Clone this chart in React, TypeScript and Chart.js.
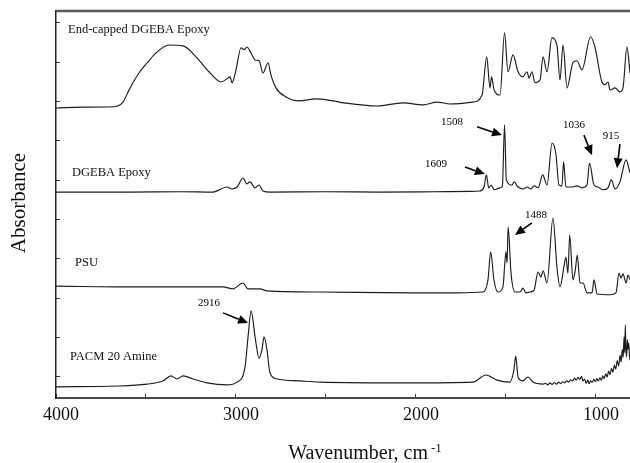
import { useEffect, useRef } from "react";
import { Chart, registerables } from "chart.js";

Chart.register(...registerables);

const SERIF = '"Liberation Serif", "Times New Roman", serif';

// FTIR spectra, [wavenumber (cm-1), absorbance], each trace already offset on the stack
const endCappedEpoxy: [number, number][] = [
  [4000, 6.84], [3850, 6.86], [3683, 6.87], [3628, 6.99], [3594, 7.3], [3539, 7.73],
  [3489, 8.01], [3444, 8.24], [3372, 8.44], [3294, 8.42], [3222, 8.14], [3150, 7.76],
  [3083, 7.5], [3044, 7.6], [3033, 7.63], [3022, 7.48], [3000, 7.81], [2972, 8.37],
  [2956, 8.32], [2939, 8.39], [2917, 8.24], [2894, 8.06], [2872, 8.04], [2850, 7.73],
  [2822, 7.99], [2806, 7.68], [2778, 7.35], [2722, 7.12], [2650, 7.02], [2556, 7.07],
  [2461, 7.02], [2400, 6.97], [2217, 6.89], [2072, 6.97], [1961, 6.92], [1883, 6.99],
  [1811, 6.94], [1683, 6.99], [1633, 7.17], [1607, 8.14], [1589, 7.35], [1580, 7.63],
  [1567, 7.32], [1533, 7.17], [1508, 8.75], [1489, 7.76], [1461, 8.19], [1433, 7.76],
  [1406, 7.63], [1383, 7.76], [1372, 7.6], [1356, 7.76], [1339, 7.48], [1311, 7.55],
  [1294, 8.14], [1272, 7.76], [1245, 8.62], [1217, 8.44], [1200, 7.55], [1183, 8.44],
  [1161, 7.35], [1128, 7.99], [1106, 8.04], [1078, 7.81], [1030, 8.65], [1006, 8.39],
  [967, 7.5], [950, 7.43], [933, 7.5], [922, 7.3], [894, 7.35], [867, 7.25], [850, 7.35],
  [828, 8.39], [811, 7.73],
];

const dgebaEpoxy: [number, number][] = [
  [4000, 4.7], [3600, 4.7], [3300, 4.71], [3128, 4.7], [3050, 4.83], [3022, 4.78],
  [2994, 4.83], [2961, 5.06], [2939, 4.91], [2922, 4.96], [2894, 4.81], [2872, 4.88],
  [2850, 4.73], [2811, 4.7], [2500, 4.71], [2200, 4.7], [1900, 4.71], [1700, 4.72],
  [1644, 4.73], [1622, 4.83], [1609, 5.14], [1596, 4.81], [1582, 4.88], [1565, 4.76],
  [1533, 4.81], [1520, 4.85], [1508, 6.41], [1498, 5.01], [1467, 4.88], [1455, 4.96],
  [1433, 4.83], [1406, 4.78], [1383, 4.83], [1361, 4.78], [1344, 4.86], [1322, 4.81],
  [1296, 5.14], [1272, 4.88], [1244, 5.95], [1222, 5.65], [1206, 4.88], [1189, 4.86],
  [1180, 5.47], [1167, 4.83], [1133, 4.83], [1106, 4.86], [1078, 4.81], [1050, 4.88],
  [1036, 5.44], [1011, 4.88], [989, 4.83], [961, 4.76], [933, 4.81], [915, 5.01],
  [894, 4.78], [867, 4.96], [833, 5.52], [811, 5.19],
];

const psu: [number, number][] = [
  [4000, 2.31], [3572, 2.29], [3072, 2.29], [3017, 2.24], [2961, 2.39], [2933, 2.24],
  [2867, 2.24], [2828, 2.19], [2533, 2.16], [2033, 2.14], [1772, 2.14], [1628, 2.16],
  [1600, 2.47], [1585, 3.18], [1567, 2.47], [1544, 2.16], [1517, 2.29], [1500, 3.18],
  [1494, 2.9], [1488, 3.81], [1472, 2.64], [1450, 2.16], [1422, 2.16], [1406, 2.26],
  [1389, 2.14], [1367, 2.16], [1344, 2.21], [1322, 2.67], [1306, 2.54], [1294, 2.7],
  [1272, 2.39], [1239, 4.04], [1217, 2.8], [1200, 2.29], [1178, 2.8], [1167, 3.05],
  [1156, 2.64], [1146, 3.61], [1128, 2.47], [1115, 2.72], [1104, 3.1], [1089, 2.39],
  [1072, 2.39], [1050, 2.14], [1022, 2.14], [1011, 2.47], [994, 2.11], [922, 2.09],
  [889, 2.14], [872, 2.64], [861, 2.52], [850, 2.62], [833, 2.39], [822, 2.59],
  [811, 2.47],
];

const pacmAmine: [number, number][] = [
  [4000, -0.25], [3661, -0.23], [3494, -0.18], [3406, -0.1], [3361, 0.03], [3328, -0.05],
  [3294, 0.03], [3239, -0.05], [3161, -0.15], [3050, -0.2], [2994, -0.13], [2950, 0.25],
  [2933, 1.02], [2916, 1.68], [2894, 1.02], [2872, 0.48], [2856, 0.69], [2844, 1.02],
  [2828, 0.69], [2811, 0.1], [2772, -0.05], [2644, -0.1], [2533, -0.13], [2033, -0.15],
  [1683, -0.13], [1611, 0.05], [1550, -0.08], [1478, -0.13], [1456, 0.18], [1446, 0.53],
  [1433, 0.0], [1406, -0.1], [1378, 0.0], [1350, -0.13], [1294, -0.18], [1280, -0.16],
  [1268, -0.2], [1255, -0.15], [1244, -0.19], [1232, -0.14], [1220, -0.18], [1208, -0.13],
  [1196, -0.17], [1185, -0.12], [1175, -0.15], [1163, -0.1], [1152, -0.13], [1141, -0.07],
  [1130, -0.1], [1119, -0.03], [1110, -0.08], [1100, -0.01], [1090, -0.06], [1080, 0.02],
  [1072, -0.1], [1063, -0.05], [1055, -0.16], [1046, -0.08], [1038, -0.17], [1030, -0.1],
  [1021, -0.14], [1012, -0.06], [1003, -0.12], [995, -0.04], [987, -0.1], [978, -0.02],
  [970, -0.08], [962, 0.03], [954, -0.04], [946, 0.08], [938, 0.0], [930, 0.15],
  [922, 0.06], [914, 0.22], [906, 0.12], [898, 0.3], [890, 0.2], [882, 0.42], [874, 0.28],
  [866, 0.55], [860, 0.38], [854, 0.7], [849, 0.5], [844, 1.02], [840, 0.62], [837, 1.32],
  [834, 0.75], [830, 0.51], [826, 0.95], [822, 0.7], [818, 0.86], [814, 0.55], [811, 0.43],
];

const traces = [endCappedEpoxy, dgebaEpoxy, psu, pacmAmine];
const traceNames = ["End-capped DGEBA Epoxy", "DGEBA Epoxy", "PSU", "PACM 20 Amine"];

// tick positions: labelled every 1000 cm-1, marks every 500; unlabelled marks up the left axis
const xTickValues = [1000, 1500, 2000, 2500, 3000, 3500, 4000];
const xLabelValues = [1000, 2000, 3000, 4000];
const yTickValues = [0, 1, 2, 3, 4, 5, 6, 7, 8, 9];

// where each trace name sits, in axis units (left edge, vertical middle)
const nameAnchors: [number, number][] = [
  [3933, 8.82],
  [3911, 5.19],
  [3894, 2.9],
  [3922, 0.51],
];

// labelled bands with their callout arrows (text centre, arrow tail, arrow tip)
const bandLabels = [1508, 1609, 1036, 915, 1488, 2916];
const bandCallouts: { text: [number, number]; tail: [number, number]; tip: [number, number] }[] = [
  { text: [1800, 6.48], tail: [1661, 6.36], tip: [1522, 6.15] },
  { text: [1889, 5.42], tail: [1728, 5.34], tip: [1617, 5.16] },
  { text: [1122, 6.41], tail: [1067, 6.15], tip: [1022, 5.64] },
  { text: [917, 6.13], tail: [867, 5.92], tip: [883, 5.31] },
  { text: [1333, 4.12], tail: [1356, 3.92], tip: [1450, 3.61] },
  { text: [3150, 1.88], tail: [3072, 1.63], tip: [2933, 1.37] },
];

const X_MIN = 811;
const X_MAX = 4000;
const Y_MIN = -0.534;
const Y_MAX = 9.305;

function drawArrow(ctx: CanvasRenderingContext2D, x1: number, y1: number, x2: number, y2: number) {
  const ang = Math.atan2(y2 - y1, x2 - x1);
  const head = 10;
  const half = 4.5;
  const bx = x2 - head * Math.cos(ang);
  const by = y2 - head * Math.sin(ang);
  ctx.beginPath();
  ctx.moveTo(x1, y1);
  ctx.lineTo(bx, by);
  ctx.stroke();
  ctx.beginPath();
  ctx.moveTo(x2, y2);
  ctx.lineTo(bx + half * Math.sin(ang), by - half * Math.cos(ang));
  ctx.lineTo(bx - half * Math.sin(ang), by + half * Math.cos(ang));
  ctx.closePath();
  ctx.fill();
}

const spectrumDecor = {
  id: "spectrumDecor",
  afterDatasetsDraw(chart: any) {
    const { ctx, chartArea, scales } = chart;
    const x = scales.x;
    const y = scales.y;
    ctx.save();

    // upper frame line
    ctx.strokeStyle = "#5a5a5a";
    ctx.lineWidth = 2.5;
    ctx.beginPath();
    ctx.moveTo(chartArea.left, chartArea.top);
    ctx.lineTo(chartArea.right, chartArea.top);
    ctx.stroke();

    // trace names
    ctx.fillStyle = "#111";
    ctx.font = `12.5px ${SERIF}`;
    ctx.textAlign = "left";
    ctx.textBaseline = "middle";
    traceNames.forEach((name, i) => {
      const [wx, wy] = nameAnchors[i];
      ctx.fillText(name, x.getPixelForValue(wx), y.getPixelForValue(wy));
    });

    // band callouts
    ctx.font = `11px ${SERIF}`;
    ctx.textAlign = "center";
    ctx.strokeStyle = "#000";
    ctx.fillStyle = "#000";
    ctx.lineWidth = 1.6;
    bandCallouts.forEach((c, i) => {
      ctx.fillText(String(bandLabels[i]), x.getPixelForValue(c.text[0]), y.getPixelForValue(c.text[1]));
      drawArrow(
        ctx,
        x.getPixelForValue(c.tail[0]),
        y.getPixelForValue(c.tail[1]),
        x.getPixelForValue(c.tip[0]),
        y.getPixelForValue(c.tip[1])
      );
    });

    // axis titles
    ctx.fillStyle = "#111";
    ctx.font = `20px ${SERIF}`;
    ctx.textAlign = "left";
    ctx.textBaseline = "alphabetic";
    const main = "Wavenumber, cm";
    const mainW = ctx.measureText(main).width;
    ctx.font = `13px ${SERIF}`;
    const sup = "-1";
    const supW = ctx.measureText(sup).width;
    const total = mainW + 3 + supW;
    const cx = 365;
    const startX = cx - total / 2;
    ctx.font = `20px ${SERIF}`;
    ctx.fillText(main, startX, 459);
    ctx.font = `13px ${SERIF}`;
    ctx.fillText(sup, startX + mainW + 3, 452);

    ctx.save();
    ctx.translate(25, 203);
    ctx.rotate(-Math.PI / 2);
    ctx.font = `21px ${SERIF}`;
    ctx.textAlign = "center";
    ctx.fillText("Absorbance", 0, 0);
    ctx.restore();

    ctx.restore();
  },
};

export default function App() {
  const canvasRef = useRef<HTMLCanvasElement | null>(null);

  useEffect(() => {
    const canvas = canvasRef.current;
    if (!canvas) return;
    const chart = new Chart(canvas, {
      type: "line",
      data: {
        datasets: traces.map((t, i) => ({
          label: traceNames[i],
          data: t.map(([wx, a]) => ({ x: wx, y: a })),
          borderColor: "#1c1c1c",
          borderWidth: 1.15,
          pointRadius: 0,
          fill: false,
          cubicInterpolationMode: "monotone" as const,
        })),
      },
      options: {
        responsive: false,
        animation: false,
        devicePixelRatio: 1,
        layout: { padding: { top: 11, left: 0, right: 0, bottom: 0 } },
        plugins: {
          legend: { display: false },
          tooltip: { enabled: false },
          title: { display: false },
        },
        scales: {
          x: {
            type: "linear",
            reverse: true,
            min: X_MIN,
            max: X_MAX,
            afterBuildTicks: (s: any) => {
              s.ticks = xTickValues.map((v) => ({ value: v }));
            },
            afterFit: (s: any) => {
              s.height = 65;
            },
            border: { display: true, color: "#4a4a4a", width: 2 },
            grid: {
              display: true,
              drawOnChartArea: false,
              drawTicks: true,
              tickLength: -4,
              tickColor: "#333",
              tickWidth: 1,
            },
            ticks: {
              autoSkip: false,
              maxRotation: 0,
              labelOffset: 5,
              padding: 10,
              color: "#111",
              font: { family: SERIF, size: 18 },
              callback: (v: any) => (xLabelValues.includes(Number(v)) ? String(v) : ""),
            },
          },
          y: {
            type: "linear",
            min: Y_MIN,
            max: Y_MAX,
            afterBuildTicks: (s: any) => {
              s.ticks = yTickValues.map((v) => ({ value: v }));
            },
            afterFit: (s: any) => {
              s.width = 56;
            },
            border: { display: true, color: "#222", width: 1.5 },
            grid: {
              display: true,
              drawOnChartArea: false,
              drawTicks: true,
              tickLength: -4,
              tickColor: "#333",
              tickWidth: 1,
            },
            ticks: {
              display: false,
            },
          },
        },
      },
      plugins: [spectrumDecor],
    });
    return () => chart.destroy();
  }, []);

  return (
    <div style={{ position: "fixed", left: 0, top: 0, width: 630, height: 463, background: "#fff" }}>
      <canvas ref={canvasRef} width={630} height={463} />
    </div>
  );
}
